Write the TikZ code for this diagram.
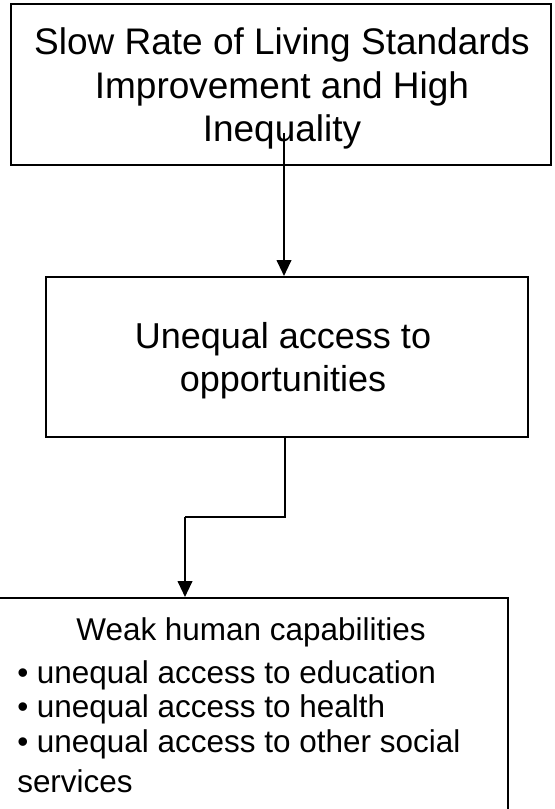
\documentclass[tikz,border=0pt]{standalone}
\usepackage{fontspec}
\setmainfont{Liberation Sans}
\usetikzlibrary{arrows.meta}
\begin{document}
\begin{tikzpicture}[x=0.75pt,y=-0.75pt,
  boxnode/.style={draw=black,line width=1.5pt,rectangle,inner sep=0pt,fill=none},
  bigtext/.style={inner sep=0pt,anchor=base,font=\fontsize{27.75pt}{32pt}\selectfont},
  midtext/.style={inner sep=0pt,anchor=base,font=\fontsize{27pt}{32pt}\selectfont},
  smalltext/.style={inner sep=0pt,font=\fontsize{23.6pt}{28pt}\selectfont},
  conn/.style={line width=1.5pt,draw=black},
  arr/.style={conn,-{Triangle[length=12pt,width=11pt]}}]
\useasboundingbox (0,0) rectangle (555,809);
\clip (0,0) rectangle (555,809);
\fill[white] (0,0) rectangle (555,809);
% boxes
\node[boxnode,minimum width=405pt,minimum height=120.75pt] (b1) at (281,84.5) {};
\node[boxnode,minimum width=361.5pt,minimum height=120pt] (b2) at (287,357) {};
\node[boxnode,minimum width=385.5pt,minimum height=189pt] (b3) at (251,724) {};
% box 1 text
\node[bigtext] (t1a) at (282,55) {Slow Rate of Living Standards};
\node[bigtext] (t1b) at (282,98.4) {Improvement and High};
\node[bigtext] (t1c) at (282,141.8) {Inequality};
% box 2 text
\node[midtext] (t2a) at (283,348) {Unequal access to};
\node[midtext] (t2b) at (283,391) {opportunities};
% box 3 text
\node[smalltext,anchor=base] (t3a) at (251,640) {Weak human capabilities};
\node[smalltext,anchor=base west] (t3b) at (17,683) {• unequal access to education};
\node[smalltext,anchor=base west] (t3c) at (17,717) {• unequal access to health};
\node[smalltext,anchor=base west] (t3d) at (17,752) {• unequal access to other social};
\node[smalltext,anchor=base west] (t3e) at (17,792) {services};
% connectors
\coordinate (s1) at (284,133);
\draw[arr] (s1) -- (s1 |- b2.north);
\coordinate (e1) at (285,517);
\coordinate (e2) at (185,517);
\draw[conn] (b2.south -| e1) -- (e1) -- (e2);
\draw[arr] (e2) -- (e2 |- b3.north);
\end{tikzpicture}
\end{document}
